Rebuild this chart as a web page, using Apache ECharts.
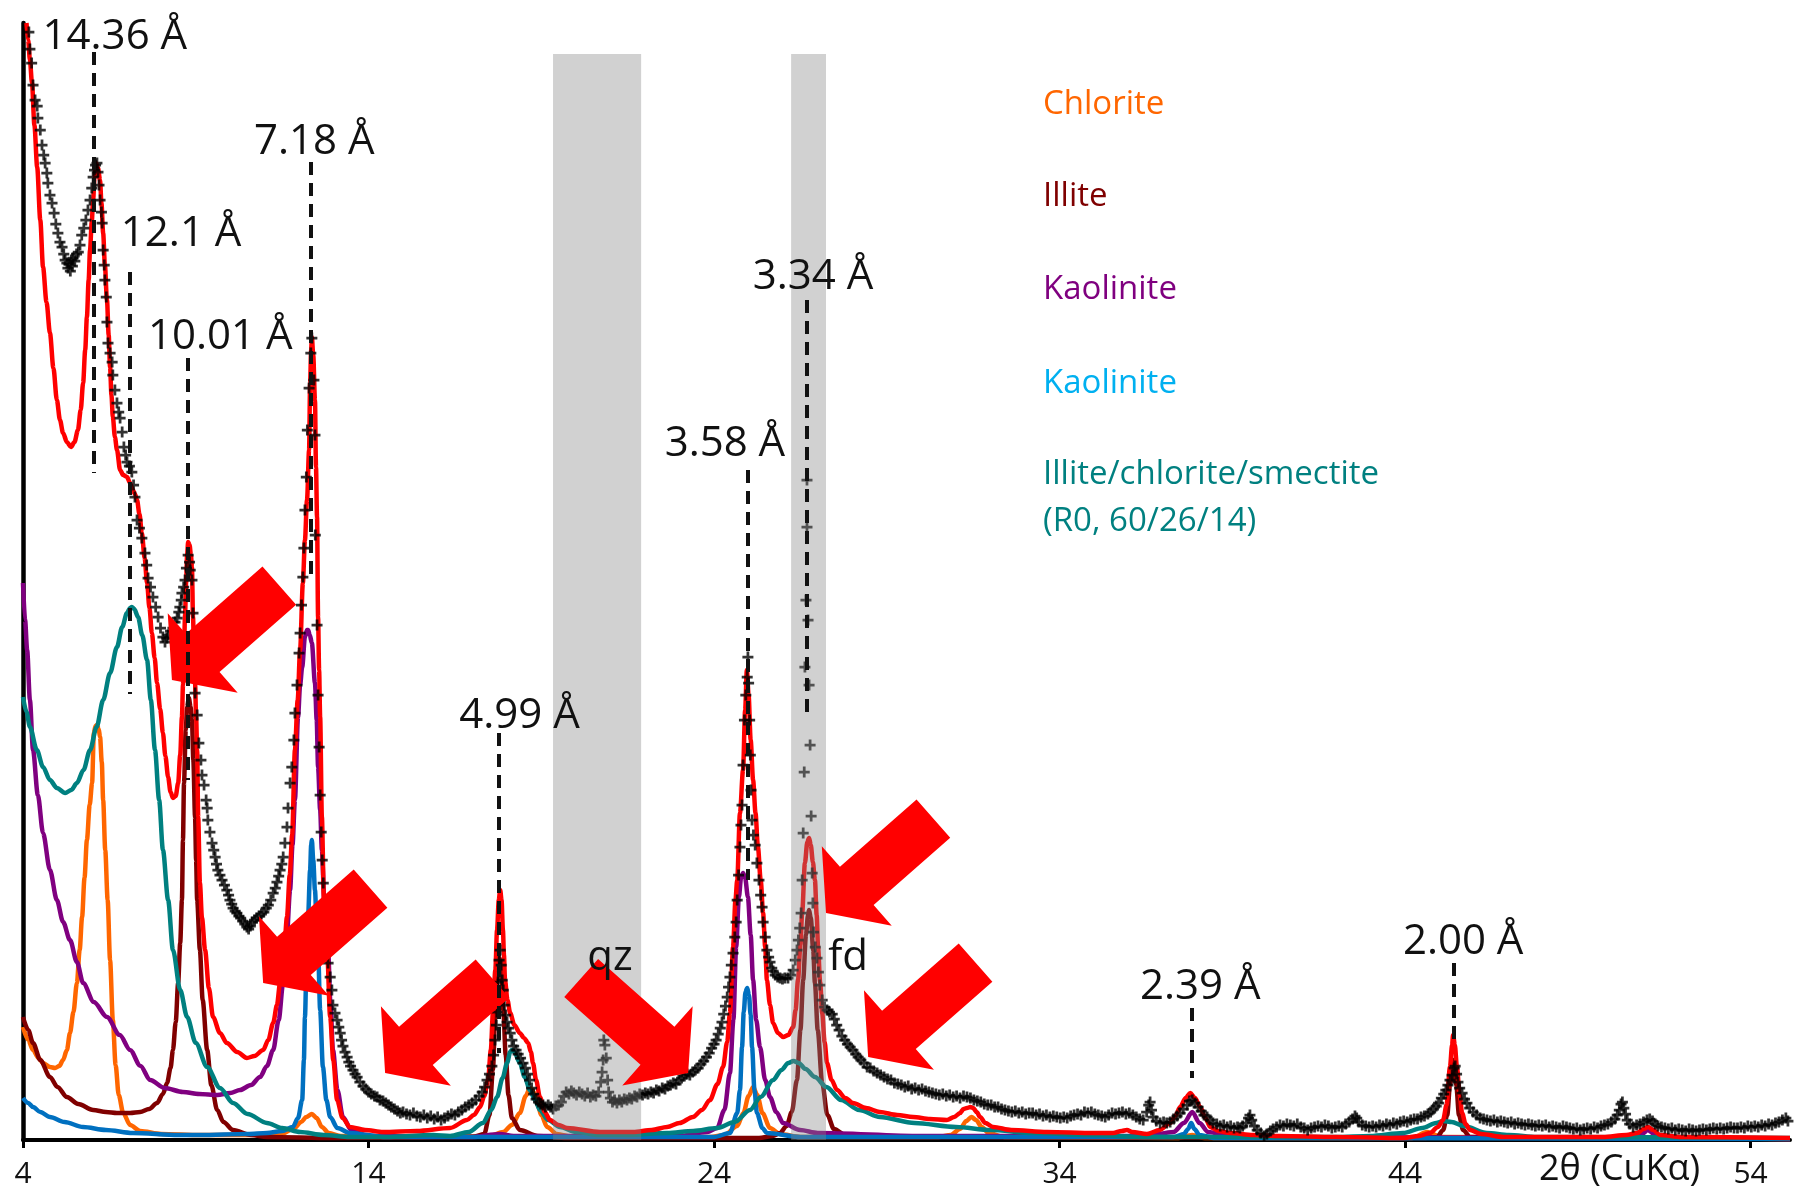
<!DOCTYPE html>
<html>
<head>
<meta charset="utf-8">
<title>XRD pattern</title>
<script src="https://cdn.jsdelivr.net/npm/echarts@6/dist/echarts.min.js"></script>
<style>
html, body { margin: 0; padding: 0; background: #fff; }
#chart { width: 1806px; height: 1192px; }
</style>
</head>
<body>
<div id="chart"></div>
<script>
// x = 2theta (deg), y = intensity (arbitrary)
const xTicks = [4, 14, 24, 34, 44, 54];

const measured = [
  [4.17,1108],[4.20,1091],[4.25,1077],[4.29,1055],[4.35,1040],[4.41,1034],[4.43,1022],[4.50,1010],[4.55,995],[4.60,985],
  [4.64,977],[4.69,967],[4.72,957],[4.78,945],[4.84,937],[4.90,927],[4.95,916],[5.01,907],[5.07,898],[5.13,893],
  [5.18,886],[5.22,880],[5.27,877],[5.30,872],[5.33,876],[5.37,869],[5.40,880],[5.43,874],[5.45,882],[5.50,879],
  [5.55,886],[5.60,888],[5.65,895],[5.70,905],[5.76,912],[5.82,920],[5.88,930],[5.94,940],[5.99,952],[6.03,963],
  [6.07,970],[6.10,975],[6.14,977],[6.17,968],[6.20,955],[6.23,940],[6.27,928],[6.29,917],[6.32,890],[6.35,875],
  [6.37,860],[6.41,843],[6.43,818],[6.46,797],[6.52,787],[6.58,778],[6.60,765],[6.66,750],[6.72,737],[6.77,728],
  [6.81,722],[6.87,708],[6.92,693],[6.97,685],[7.01,678],[7.08,674],[7.15,668],[7.20,655],[7.24,643],[7.30,620],
  [7.37,612],[7.44,602],[7.53,587],[7.58,575],[7.62,562],[7.69,553],[7.76,543],[7.84,533],[7.91,523],[7.98,512],
  [8.05,503],[8.11,498],[8.16,502],[8.20,505],[8.27,509],[8.34,512],[8.40,518],[8.46,522],[8.51,528],[8.54,533],
  [8.58,540],[8.60,547],[8.65,553],[8.69,560],[8.73,572],[8.78,585],[8.82,578],[8.84,570],[8.89,560],[8.92,527],
  [8.95,487],[8.98,447],[9.04,425],[9.09,397],[9.15,380],[9.18,365],[9.24,355],[9.30,340],[9.33,332],[9.35,320],
  [9.41,308],[9.47,297],[9.52,290],[9.56,283],[9.60,276],[9.64,270],[9.70,265],[9.76,260],[9.83,255],[9.90,250],
  [9.95,245],[9.99,240],[10.04,236],[10.08,232],[10.14,229],[10.19,227],[10.25,224],[10.30,222],[10.36,219],[10.42,216],
  [10.48,213],[10.53,211],[10.58,214],[10.63,218],[10.70,220],[10.76,222],[10.83,224],[10.90,226],[10.97,228],[11.04,232],
  [11.10,235],[11.17,240],[11.24,247],[11.30,252],[11.35,258],[11.40,264],[11.44,270],[11.49,276],[11.53,283],[11.58,297],
  [11.64,313],[11.67,332],[11.73,357],[11.78,373],[11.84,400],[11.87,427],[11.93,455],[11.99,487],[12.02,507],[12.06,535],
  [12.10,563],[12.13,592],[12.16,630],[12.20,663],[12.23,710],[12.28,752],[12.33,787],[12.36,802],[12.42,760],[12.45,705],
  [12.46,605],[12.51,515],[12.54,445],[12.57,393],[12.60,345],[12.63,308],[12.66,280],[12.69,257],[12.76,215],[12.83,177],
  [12.89,163],[12.94,150],[12.97,135],[13.03,127],[13.09,120],[13.14,113],[13.18,107],[13.22,100],[13.26,94],[13.32,88],
  [13.38,83],[13.43,78],[13.48,74],[13.55,70],[13.61,66],[13.67,63],[13.75,58],[13.84,54],[13.92,51],[14.00,48],
  [14.08,46],[14.17,44],[14.25,43],[14.33,40],[14.42,39],[14.50,37],[14.58,35],[14.66,33],[14.75,31],[14.84,29],
  [14.92,27],[15.00,28],[15.10,26],[15.20,25],[15.30,27],[15.40,24],[15.50,23],[15.60,25],[15.70,22],[15.80,24],
  [15.90,21],[16.00,23],[16.10,20],[16.20,22],[16.30,24],[16.40,26],[16.50,25],[16.60,28],[16.70,30],[16.80,33],
  [16.90,35],[17.00,37],[17.10,40],[17.20,44],[17.29,48],[17.36,53],[17.43,60],[17.50,66],[17.57,74],[17.62,85],
  [17.66,100],[17.70,115],[17.72,128],[17.75,158],[17.78,180],[17.81,190],[17.84,175],[17.87,160],[17.90,150],[17.93,135],
  [17.97,125],[18.01,118],[18.05,112],[18.10,107],[18.15,100],[18.20,94],[18.27,90],[18.33,86],[18.40,82],[18.47,77],
  [18.54,72],[18.60,66],[18.66,60],[18.72,52],[18.78,46],[18.85,41],[18.92,38],[18.98,36],[19.05,35],[19.12,33],
  [19.20,35],[19.27,33],[19.34,31],[19.42,34],[19.50,35],[19.58,38],[19.65,44],[19.72,48],[19.80,46],[19.87,49],
  [19.94,47],[20.02,45],[20.10,48],[20.18,46],[20.26,44],[20.34,47],[20.42,43],[20.50,45],[20.58,44],[20.66,48],
  [20.72,58],[20.76,68],[20.79,80],[20.81,100],[20.84,95],[20.88,82],[20.92,60],[20.95,48],[21.00,42],[21.06,38],
  [21.12,40],[21.19,37],[21.26,40],[21.33,38],[21.40,41],[21.48,40],[21.55,42],[21.62,41],[21.70,44],[21.77,43],
  [21.85,46],[21.93,45],[22.01,47],[22.09,46],[22.17,48],[22.25,47],[22.33,50],[22.41,49],[22.50,52],[22.58,51],
  [22.66,54],[22.74,55],[22.82,57],[22.90,56],[22.98,60],[23.06,62],[23.14,64],[23.22,66],[23.30,65],[23.38,68],
  [23.46,70],[23.54,72],[23.62,76],[23.70,79],[23.78,83],[23.86,87],[23.93,92],[24.00,96],[24.06,100],[24.12,106],
  [24.18,112],[24.23,118],[24.28,126],[24.33,134],[24.38,143],[24.42,153],[24.46,163],[24.50,175],[24.55,187],[24.60,203],
  [24.64,218],[24.67,240],[24.71,265],[24.75,293],[24.78,315],[24.81,335],[24.84,375],[24.88,420],[24.92,445],[24.96,463],
  [24.98,483],[25.00,457],[25.03,420],[25.05,385],[25.07,350],[25.10,320],[25.14,305],[25.19,295],[25.24,277],[25.30,260],
  [25.35,245],[25.39,233],[25.42,218],[25.48,203],[25.53,190],[25.58,183],[25.62,178],[25.67,172],[25.71,169],[25.77,165],
  [25.84,163],[25.91,162],[25.98,161],[26.05,162],[26.14,162],[26.22,165],[26.29,170],[26.35,180],[26.40,190],[26.44,200],
  [26.48,212],[26.52,227],[26.55,260],[26.58,307],[26.61,368],[26.63,473],[26.66,540],[26.69,613],[26.69,660],[26.72,520],
  [26.75,455],[26.78,395],[26.81,324],[26.84,267],[26.86,237],[26.88,208],[26.93,193],[26.98,182],[27.02,168],[27.06,155],
  [27.13,140],[27.20,133],[27.27,130],[27.34,128],[27.42,126],[27.48,121],[27.55,115],[27.62,110],[27.70,104],[27.78,100],
  [27.86,96],[27.94,93],[28.02,90],[28.10,86],[28.17,83],[28.25,80],[28.34,77],[28.43,73],[28.52,72],[28.62,69],
  [28.72,67],[28.82,65],[28.92,63],[29.02,61],[29.12,60],[29.22,57],[29.32,56],[29.42,55],[29.52,53],[29.62,54],
  [29.72,51],[29.82,52],[29.92,50],[30.02,51],[30.12,49],[30.22,48],[30.32,47],[30.42,46],[30.52,45],[30.62,46],
  [30.72,44],[30.82,45],[30.92,43],[31.02,44],[31.12,42],[31.22,44],[31.32,43],[31.42,42],[31.52,40],[31.62,39],
  [31.72,38],[31.82,36],[31.92,35],[32.02,35],[32.12,33],[32.22,33],[32.32,31],[32.42,30],[32.52,29],[32.62,28],
  [32.72,29],[32.82,27],[32.92,28],[33.02,26],[33.12,27],[33.22,27],[33.32,25],[33.42,26],[33.52,24],[33.62,25],
  [33.72,23],[33.82,24],[33.92,23],[34.02,22],[34.12,23],[34.22,22],[34.32,24],[34.42,25],[34.52,26],[34.62,25],
  [34.72,28],[34.82,27],[34.92,28],[35.02,26],[35.12,25],[35.22,24],[35.32,23],[35.42,25],[35.52,27],[35.62,26],
  [35.72,27],[35.82,28],[35.92,26],[36.02,27],[36.12,25],[36.22,23],[36.32,21],[36.42,20],[36.52,28],[36.58,35],
  [36.62,38],[36.66,30],[36.71,23],[36.80,19],[36.91,17],[37.01,18],[37.10,17],[37.20,18],[37.30,21],[37.40,24],
  [37.49,27],[37.58,31],[37.69,35],[37.76,39],[37.84,40],[37.92,37],[38.01,33],[38.10,29],[38.18,25],[38.27,23],
  [38.36,20],[38.44,17],[38.55,16],[38.65,14],[38.75,15],[38.85,13],[38.95,14],[39.05,12],[39.15,13],[39.22,12],
  [39.30,14],[39.40,17],[39.47,22],[39.51,25],[39.56,20],[39.64,14],[39.72,10],[39.82,7],[39.92,4],[40.00,6],
  [40.10,9],[40.18,11],[40.28,13],[40.38,15],[40.48,14],[40.58,16],[40.68,15],[40.78,14],[40.88,16],[40.98,13],
  [41.08,12],[41.18,10],[41.28,12],[41.38,13],[41.48,14],[41.58,13],[41.68,15],[41.78,14],[41.88,12],[41.98,13],
  [42.08,14],[42.18,13],[42.28,16],[42.38,18],[42.48,21],[42.55,24],[42.60,22],[42.66,18],[42.76,15],[42.86,14],
  [42.96,13],[43.06,14],[43.16,13],[43.26,15],[43.36,14],[43.46,16],[43.56,15],[43.66,17],[43.76,16],[43.86,18],
  [43.96,19],[44.06,18],[44.16,20],[44.26,21],[44.36,21],[44.46,23],[44.56,24],[44.66,26],[44.74,28],[44.82,31],
  [44.90,34],[44.97,37],[45.05,42],[45.12,46],[45.18,50],[45.24,55],[45.30,60],[45.36,65],[45.42,72],[45.45,74],
  [45.49,66],[45.53,58],[45.58,52],[45.65,47],[45.72,41],[45.79,37],[45.87,32],[45.97,28],[46.07,25],[46.17,22],
  [46.27,21],[46.37,20],[46.47,19],[46.57,20],[46.67,18],[46.77,19],[46.87,18],[46.97,17],[47.07,18],[47.17,16],
  [47.27,17],[47.37,16],[47.47,15],[47.57,16],[47.67,15],[47.77,14],[47.87,15],[47.97,14],[48.07,15],[48.17,13],
  [48.27,14],[48.37,13],[48.47,12],[48.57,14],[48.67,13],[48.77,12],[48.87,11],[48.97,12],[49.07,10],[49.17,11],
  [49.27,12],[49.37,11],[49.47,13],[49.57,12],[49.67,14],[49.77,15],[49.87,16],[49.97,18],[50.07,21],[50.14,25],
  [50.20,30],[50.25,36],[50.29,38],[50.33,32],[50.38,26],[50.43,20],[50.50,16],[50.60,13],[50.70,15],[50.80,16],
  [50.90,18],[51.00,20],[51.08,21],[51.16,19],[51.24,16],[51.32,14],[51.42,13],[51.52,12],[51.62,11],[51.72,12],
  [51.82,10],[51.92,11],[52.02,10],[52.12,9],[52.22,11],[52.32,10],[52.42,9],[52.52,10],[52.62,11],[52.72,10],
  [52.82,11],[52.92,12],[53.02,11],[53.12,12],[53.22,11],[53.32,12],[53.42,13],[53.52,12],[53.62,12],[53.72,13],
  [53.82,12],[53.92,14],[54.02,13],[54.12,14],[54.22,13],[54.32,15],[54.42,14],[54.52,16],[54.62,15],[54.72,17],
  [54.82,18],[54.92,20],[55.02,22],[55.08,19]
];

const calcSum = [
  [4.10,1117],[4.15,1100],[4.20,1080],[4.26,1057],[4.33,1015],[4.41,973],[4.50,920],[4.58,873],[4.68,838],[4.78,807],
  [4.88,772],[4.98,740],[5.07,720],[5.16,707],[5.27,698],[5.39,693],[5.49,698],[5.59,710],[5.67,730],[5.74,757],
  [5.80,790],[5.85,823],[5.90,860],[5.94,890],[5.99,918],[6.03,940],[6.07,962],[6.11,977],[6.17,972],[6.23,960],
  [6.27,937],[6.32,907],[6.37,875],[6.43,840],[6.48,805],[6.52,773],[6.56,745],[6.60,723],[6.66,703],[6.72,690],
  [6.81,670],[6.90,665],[7.01,663],[7.10,657],[7.18,650],[7.24,646],[7.30,640],[7.37,626],[7.44,607],[7.52,582],
  [7.59,557],[7.66,532],[7.73,507],[7.81,482],[7.88,457],[7.97,431],[8.05,407],[8.12,384],[8.20,363],[8.27,348],
  [8.34,342],[8.42,344],[8.49,357],[8.55,385],[8.60,423],[8.63,455],[8.66,490],[8.69,525],[8.72,557],[8.75,585],
  [8.78,598],[8.82,595],[8.86,585],[8.89,573],[8.92,523],[8.95,490],[8.98,457],[9.01,423],[9.04,390],[9.07,323],
  [9.12,257],[9.18,222],[9.27,190],[9.38,152],[9.50,123],[9.70,107],[9.90,97],[10.20,88],[10.48,82],[10.70,84],
  [10.95,90],[11.10,100],[11.24,117],[11.35,135],[11.44,157],[11.55,187],[11.64,223],[11.72,265],[11.79,305],[11.87,390],
  [11.95,440],[12.02,490],[12.10,557],[12.16,600],[12.22,640],[12.28,690],[12.31,757],[12.34,790],[12.36,803],[12.40,785],
  [12.45,740],[12.48,673],[12.51,623],[12.54,523],[12.57,470],[12.60,423],[12.65,323],[12.71,240],[12.80,190],[12.89,123],
  [12.98,80],[13.09,40],[13.25,22],[13.46,13],[13.90,10],[14.42,8],[15.40,9],[16.36,12],[16.85,20],[17.05,25],
  [17.23,33],[17.35,44],[17.46,60],[17.54,90],[17.60,127],[17.67,170],[17.72,210],[17.77,240],[17.81,250],[17.85,240],
  [17.89,210],[17.92,185],[17.95,160],[18.02,140],[18.10,127],[18.22,115],[18.38,107],[18.50,102],[18.62,97],[18.70,88],
  [18.76,77],[18.85,60],[18.96,43],[19.10,28],[19.25,20],[19.50,15],[19.75,12],[20.70,8],[21.66,8],[22.20,10],
  [22.64,13],[23.00,17],[23.39,23],[23.65,30],[23.88,40],[24.10,56],[24.26,73],[24.38,98],[24.46,127],[24.55,193],
  [24.62,240],[24.67,260],[24.75,327],[24.84,370],[24.90,430],[24.95,470],[25.00,445],[25.06,400],[25.13,360],[25.20,327],
  [25.27,293],[25.35,260],[25.42,227],[25.48,193],[25.53,160],[25.62,135],[25.71,117],[25.85,107],[26.00,103],[26.15,105],
  [26.29,113],[26.36,130],[26.43,160],[26.50,195],[26.55,227],[26.63,277],[26.70,298],[26.75,302],[26.80,295],[26.86,278],
  [26.92,260],[26.97,225],[27.01,193],[27.07,158],[27.13,127],[27.20,98],[27.27,77],[27.40,60],[27.56,50],[27.80,42],
  [28.02,37],[28.40,32],[28.80,28],[29.30,25],[29.76,23],[30.25,21],[30.74,20],[30.95,23],[31.12,27],[31.22,31],
  [31.32,32],[31.42,33],[31.50,32],[31.60,28],[31.70,23],[31.85,17],[32.08,13],[32.60,10],[33.64,8],[35.00,7],
  [35.55,7],[35.80,9],[35.95,10],[36.10,8],[36.53,6],[36.90,10],[37.20,17],[37.35,24],[37.49,33],[37.65,42],
  [37.78,47],[37.92,42],[38.07,33],[38.22,22],[38.36,13],[38.60,9],[38.94,7],[39.60,5],[40.38,4],[42.00,3],
  [43.94,2],[44.40,4],[44.72,7],[44.95,13],[45.10,20],[45.20,35],[45.30,73],[45.36,95],[45.39,105],[45.44,95],
  [45.50,73],[45.58,45],[45.65,27],[45.75,16],[45.88,10],[46.20,6],[46.84,3],[49.73,3],[50.40,5],[50.72,7],
  [50.90,11],[51.03,13],[51.18,10],[51.38,5],[52.00,3],[55.14,2]
];

const chlorite = [
  [4.00,113],[4.15,100],[4.29,90],[4.45,82],[4.58,77],[4.78,73],[4.93,72],[5.05,74],[5.16,80],[5.27,90],
  [5.36,107],[5.46,128],[5.56,157],[5.64,190],[5.71,223],[5.78,262],[5.85,300],[5.93,335],[6.00,357],[6.05,407],
  [6.10,414],[6.14,415],[6.19,411],[6.23,403],[6.28,378],[6.32,340],[6.38,290],[6.45,240],[6.52,180],[6.60,120],
  [6.68,75],[6.77,45],[6.90,27],[7.10,15],[7.39,9],[8.00,6],[9.12,5],[10.50,5],[11.53,7],[11.85,12],
  [12.05,18],[12.20,23],[12.36,26],[12.50,22],[12.65,13],[12.85,7],[13.20,4],[15.00,3],[17.50,4],[17.90,8],
  [18.15,15],[18.38,27],[18.55,44],[18.67,52],[18.78,48],[18.88,38],[19.00,25],[19.17,13],[19.45,6],[19.90,3],
  [23.90,3],[24.30,5],[24.67,14],[24.85,27],[25.00,44],[25.13,53],[25.25,45],[25.40,27],[25.62,12],[25.90,6],
  [26.50,3],[30.50,3],[30.85,5],[31.12,11],[31.30,19],[31.45,23],[31.58,20],[31.75,13],[31.95,7],[32.40,3],
  [37.40,2],[37.84,5],[38.20,2],[44.20,2],[44.64,8],[45.05,3],[55.14,1]
];

const illite = [
  [4.00,123],[4.15,110],[4.29,97],[4.50,80],[4.78,63],[5.00,53],[5.27,43],[5.60,36],[6.03,30],[6.40,28],
  [6.72,27],[7.10,27],[7.39,28],[7.65,31],[7.88,37],[8.05,46],[8.17,57],[8.27,72],[8.34,90],[8.42,118],
  [8.49,157],[8.55,197],[8.60,240],[8.63,300],[8.66,357],[8.71,410],[8.75,433],[8.80,442],[8.85,433],[8.89,420],
  [8.93,380],[8.98,323],[9.01,280],[9.04,240],[9.12,190],[9.20,140],[9.33,90],[9.45,55],[9.62,30],[9.80,18],
  [10.08,10],[10.60,5],[11.06,3],[13.00,2],[17.00,3],[17.35,6],[17.50,25],[17.60,70],[17.68,140],[17.75,175],
  [17.79,182],[17.84,170],[17.90,130],[17.97,85],[18.05,45],[18.15,22],[18.38,10],[18.90,4],[19.75,2],[25.30,2],
  [25.70,4],[25.91,7],[26.10,14],[26.25,28],[26.40,60],[26.50,110],[26.58,160],[26.66,205],[26.72,225],[26.75,230],
  [26.80,222],[26.87,190],[26.92,157],[27.00,110],[27.13,57],[27.28,25],[27.47,11],[27.80,5],[28.23,3],[44.50,2],
  [44.93,3],[45.10,10],[45.22,25],[45.30,55],[45.39,80],[45.48,55],[45.56,25],[45.68,10],[45.88,3],[55.14,1]
];

const kaolinitePurple = [
  [4.00,557],[4.06,520],[4.12,490],[4.20,440],[4.29,390],[4.43,345],[4.58,307],[4.78,270],[4.98,240],[5.16,218],
  [5.36,200],[5.56,178],[5.74,157],[6.05,138],[6.43,123],[6.80,105],[7.10,90],[7.40,74],[7.68,60],[8.10,52],
  [8.63,48],[9.10,46],[9.62,45],[10.00,47],[10.28,50],[10.60,55],[10.86,63],[11.06,74],[11.24,90],[11.40,120],
  [11.53,157],[11.63,200],[11.73,250],[11.80,295],[11.87,340],[11.96,423],[12.02,455],[12.08,473],[12.16,503],[12.22,510],
  [12.25,510],[12.30,505],[12.36,497],[12.45,457],[12.50,420],[12.54,373],[12.60,330],[12.65,290],[12.72,240],[12.83,190],
  [12.90,135],[12.97,90],[13.10,50],[13.26,23],[13.50,10],[13.96,4],[17.00,3],[17.80,6],[18.20,4],[23.00,4],
  [23.80,8],[24.09,12],[24.30,30],[24.46,67],[24.56,120],[24.64,193],[24.72,243],[24.78,262],[24.84,267],[24.90,262],
  [24.98,243],[25.06,205],[25.13,160],[25.22,120],[25.33,93],[25.48,60],[25.62,43],[25.80,28],[26.00,17],[26.49,10],
  [27.00,7],[30.00,4],[36.50,4],[37.30,8],[37.60,17],[37.84,28],[38.05,17],[38.30,8],[39.00,3],[50.50,2],
  [50.85,6],[51.03,10],[51.20,6],[51.40,2],[55.14,1]
];

const kaoliniteBlue = [
  [4.00,42],[4.15,37],[4.29,33],[4.50,28],[4.78,23],[5.20,18],[5.74,13],[6.40,10],[7.18,7],[8.50,5],
  [9.12,5],[10.50,6],[11.06,7],[11.50,9],[11.81,13],[11.96,22],[12.08,40],[12.13,80],[12.16,123],[12.21,180],
  [12.25,223],[12.31,270],[12.34,295],[12.36,300],[12.40,280],[12.45,250],[12.50,215],[12.54,190],[12.60,130],[12.68,73],
  [12.78,40],[12.89,23],[13.10,12],[13.46,7],[14.50,3],[24.00,3],[24.46,7],[24.67,27],[24.75,50],[24.81,93],
  [24.86,128],[24.91,148],[24.96,152],[25.01,145],[25.06,125],[25.10,93],[25.17,50],[25.24,27],[25.40,12],[25.53,7],
  [26.50,3],[37.30,3],[37.60,6],[37.72,11],[37.81,17],[37.90,11],[38.05,5],[38.50,2],[55.14,1]
];

const illiteChloriteSmectite = [
  [4.00,443],[4.10,428],[4.20,413],[4.40,390],[4.58,373],[4.78,360],[4.98,352],[5.22,347],[5.40,350],[5.56,357],
  [5.75,370],[5.94,390],[6.13,413],[6.32,440],[6.52,467],[6.72,493],[6.87,513],[7.01,527],[7.10,532],[7.15,533],
  [7.22,531],[7.33,523],[7.45,505],[7.59,480],[7.70,440],[7.82,390],[7.94,340],[8.05,290],[8.20,240],[8.34,190],
  [8.55,150],[8.75,123],[9.00,97],[9.33,73],[9.70,52],[10.08,37],[10.50,26],[11.06,17],[11.50,12],[12.02,8],
  [12.70,5],[13.46,3],[14.50,3],[15.87,5],[16.36,4],[16.90,8],[17.31,17],[17.55,30],[17.72,43],[17.88,62],
  [18.01,77],[18.10,88],[18.15,90],[18.22,88],[18.38,77],[18.52,63],[18.67,50],[18.82,40],[18.96,30],[19.20,20],
  [19.54,13],[20.00,8],[20.70,5],[21.50,5],[22.64,7],[23.40,9],[24.09,12],[24.60,18],[25.04,30],[25.35,43],
  [25.71,60],[25.95,70],[26.15,77],[26.30,79],[26.45,77],[26.65,71],[26.92,63],[27.25,53],[27.68,40],[28.20,30],
  [28.80,23],[29.80,17],[31.00,13],[32.00,10],[33.23,7],[34.80,5],[36.56,3],[42.00,3],[42.99,4],[43.94,7],
  [44.50,12],[44.90,17],[45.10,19],[45.35,18],[45.70,14],[46.37,7],[47.00,5],[47.82,3],[55.14,2]
];

// d-spacing markers: label, 2theta, dashed line from / to (intensity units)
const peakLines = [
  ['14.36 Å', 6.05, 1088, 667],
  ['12.1 Å', 7.10, 868, 446],
  ['10.01 Å', 8.78, 782, 360],
  ['7.18 Å', 12.34, 978, 558],
  ['4.99 Å', 17.76, 407, 87],
  ['3.58 Å', 24.98, 670, 260],
  ['3.34 Å', 26.69, 840, 420],
  ['2.39 Å', 37.84, 132, 62],
  ['2.00 Å', 45.42, 177, 100]
];
// quartz and feldspar windows (2theta) and the band top
const bands = [[19.34, 21.89], [26.23, 27.24]];
const bandTop = 1086;
const phaseTags = [['qz', 20.99, 182], ['fd', 27.88, 182]];
// arrow tips in chart coords, 'sw' = pointing down-left, 'se' = down-right
const arrowTips = [[8.31, 460, 'sw'], [10.95, 157, 'sw'], [14.48, 67, 'sw'], [23.25, 67, 'se'], [27.24, 227, 'sw'], [28.46, 83, 'sw']];
const legendNames = ['Chlorite', 'Illite', 'Kaolinite', 'Kaolinite', 'Illite/chlorite/smectite', '(R0, 60/26/14)'];

const FONT = '"Open Sans", "DejaVu Sans", sans-serif';
const legendColors = ['#FF6600', '#7F0000', '#7F007F', '#00B0F0', '#008080', '#008080'];
const legendY = [105, 197, 290, 384, 475, 522];
// label centre offsets (px) from the top of each dashed line
const labelOffsets = [[21, -15], [51, -38], [32, -21], [3, -20], [21, -17], [-23, -26], [6, -23], [8, -21], [9, -21]];

const chart = echarts.init(document.getElementById('chart'));

function curve(name, data, color) {
  return {
    name: name, type: 'line', data: data, showSymbol: false, symbol: 'none',
    smooth: 0.3, smoothMonotone: 'x', clip: true, z: 2, silent: true,
    lineStyle: { color: color, width: 4.5 }
  };
}

chart.setOption({
  animation: false,
  backgroundColor: '#fff',
  grid: { left: 23, right: 16, top: 23, bottom: 52, containLabel: false },
  xAxis: {
    type: 'value', min: 4, max: 55.14, interval: 10,
    axisLine: { lineStyle: { color: '#000', width: 4 } },
    axisTick: { customValues: xTicks, length: 8, lineStyle: { color: '#000', width: 3 } },
    axisLabel: { customValues: xTicks, fontSize: 30, color: '#111', margin: 19, fontFamily: FONT },
    splitLine: { show: false }
  },
  yAxis: {
    type: 'value', min: 0, max: 1117,
    axisLine: { show: true, lineStyle: { color: '#000', width: 4.5 } },
    axisTick: { show: false }, axisLabel: { show: false }, splitLine: { show: false }
  },
  series: [
    {
      name: 'measured', type: 'scatter', data: measured, z: 2, silent: true,
      symbol: 'path://M0,3.75H10V6.25H0ZM3.75,0H6.25V10H3.75Z', symbolSize: 11,
      itemStyle: { color: '#000' }
    },
    curve('Chlorite', chlorite, '#FF6600'),
    curve('Illite', illite, '#800000'),
    curve('Kaolinite', kaolinitePurple, '#800080'),
    curve('Kaolinite 2', kaoliniteBlue, '#0070C0'),
    curve('I/C/S', illiteChloriteSmectite, '#008080'),
    curve('calc', calcSum, '#FF0000'),
    {
      name: 'bands', type: 'line', data: [], z: 3, silent: true,
      markArea: {
        silent: true, z: 3,
        itemStyle: { color: 'rgba(133,133,133,0.38)' },
        data: bands.map(b => [{ coord: [b[0], 0] }, { coord: [b[1], bandTop] }])
      }
    },
    {
      name: 'peaks', type: 'line', data: [], z: 5, silent: true,
      markLine: {
        silent: true, z: 5, symbol: 'none', label: { show: false },
        lineStyle: { color: '#111', width: 4, type: [13, 8] },
        data: peakLines.map(p => [{ coord: [p[1], p[2]] }, { coord: [p[1], p[3]] }])
      }
    }
  ]
});

const toPx = p => chart.convertToPixel({ xAxisIndex: 0, yAxisIndex: 0 }, p);
const graphics = [];

// block arrows: tip, head length 41, head half width 53, shaft half width 25.5, length 143
const ARROW = [[0, 0], [41, -53], [41, -25.5], [143, -25.5], [143, 25.5], [41, 25.5], [41, 53]];
arrowTips.forEach(a => {
  const tip = toPx([a[0], a[1]]);
  const u = a[2] === 'sw' ? [0.751, -0.660] : [-0.748, -0.664];
  const v = [-u[1], u[0]];
  graphics.push({
    type: 'polygon', z: 4, silent: true,
    shape: { points: ARROW.map(([s, t]) => [tip[0] + s * u[0] + t * v[0], tip[1] + s * u[1] + t * v[1]]) },
    style: { fill: '#FF0000' }
  });
});

peakLines.forEach((p, i) => {
  const top = toPx([p[1], p[2]]);
  graphics.push({
    type: 'text', z: 6, silent: true,
    x: top[0] + labelOffsets[i][0], y: top[1] + labelOffsets[i][1],
    style: { text: p[0], fontSize: 42, fontFamily: FONT, fill: '#111', align: 'center', verticalAlign: 'middle' }
  });
});

phaseTags.forEach(t => {
  const c = toPx([t[1], t[2]]);
  graphics.push({
    type: 'text', z: 6, silent: true, x: c[0], y: c[1],
    style: { text: t[0], fontSize: 42, fontFamily: FONT, fill: '#111', align: 'center', verticalAlign: 'middle' }
  });
});

legendNames.forEach((n, i) => {
  graphics.push({
    type: 'text', z: 6, silent: true, x: 1043, y: legendY[i],
    style: { text: n, fontSize: 33, fontFamily: FONT, fill: legendColors[i], align: 'left', verticalAlign: 'middle' }
  });
});

graphics.push({
  type: 'text', z: 6, silent: true, x: 1539, y: 1170,
  style: { text: '2θ (CuKα)', fontSize: 36, fontFamily: FONT, fill: '#111', align: 'left', verticalAlign: 'middle' }
});

chart.setOption({ graphic: graphics });
</script>
</body>
</html>
